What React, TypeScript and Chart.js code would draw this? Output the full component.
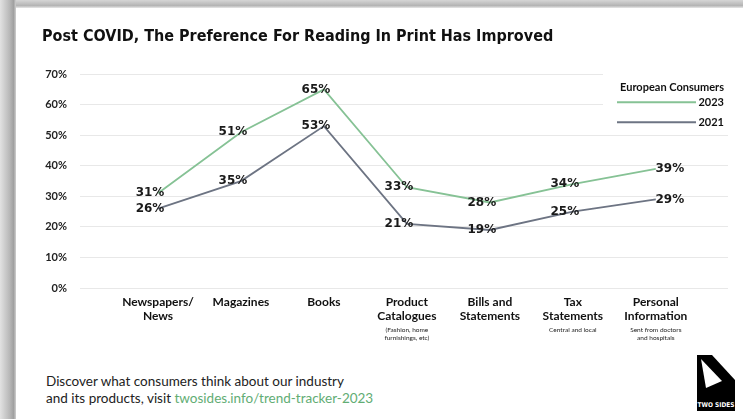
import React, { useEffect, useRef } from "react";
import { Chart, registerables } from "chart.js";

Chart.register(...registerables);

const chartTitle = "Post COVID, The Preference For Reading In Print Has Improved";
const categories: string[][] = [
  ["Newspapers/", "News"],
  ["Magazines"],
  ["Books"],
  ["Product", "Catalogues"],
  ["Bills and", "Statements"],
  ["Tax", "Statements"],
  ["Personal", "Information"],
];
const categoryNotes: string[][] = [
  [],
  [],
  [],
  ["(Fashion, home", "furnishings, etc)"],
  [],
  ["Central and local"],
  ["Sent from doctors", "and hospitals"],
];
const seriesNames = ["2023", "2021"];
const series2023 = [31, 51, 65, 33, 28, 34, 39];
const series2021 = [26, 35, 53, 21, 19, 25, 29];
const yTickValues = [0, 10, 20, 30, 40, 50, 60, 70];
const legendTitle = "European Consumers";

const GREEN = "#86c295";
const GREY = "#6d7483";
const GEO = "Lato, 'DejaVu Sans', sans-serif";

const dataLabelPlugin = {
  id: "dataLabels",
  afterDatasetsDraw(chart: any) {
    const ctx = chart.ctx;
    ctx.save();
    ctx.font = "bold 12px 'DejaVu Sans', sans-serif";
    ctx.fillStyle = "#1a1a1a";
    ctx.textAlign = "center";
    ctx.textBaseline = "middle";
    chart.data.datasets.forEach((ds: any, di: number) => {
      const meta = chart.getDatasetMeta(di);
      meta.data.forEach((el: any, i: number) => {
        const v = ds.data[i].y;
        const last = i === meta.data.length - 1;
        ctx.fillText(v + "%", el.x + (last ? 14 : -8), el.y);
      });
    });
    ctx.restore();
  },
};

const sideLegendPlugin = {
  id: "sideLegend",
  beforeDatasetsDraw(chart: any) {
    const { ctx, chartArea } = chart;
    const right = chartArea.right - 4;
    const top = chartArea.top;
    ctx.save();
    ctx.fillStyle = "#fff";
    ctx.fillRect(right - 121, top - 8, 127, 54);
    ctx.font = "bold 11px " + GEO;
    ctx.fillStyle = "#111";
    ctx.textAlign = "right";
    ctx.textBaseline = "middle";
    ctx.fillText(legendTitle, right, top + 13);
    chart.data.datasets.forEach((ds: any, i: number) => {
      const y = top + 28 + i * 20;
      ctx.strokeStyle = ds.borderColor;
      ctx.lineWidth = 2;
      ctx.beginPath();
      ctx.moveTo(right - 107, y);
      ctx.lineTo(right - 28, y);
      ctx.stroke();
      ctx.fillStyle = "#111";
      ctx.fillText(ds.label, right, y);
    });
    ctx.restore();
  },
};

function ChartView() {
  const ref = useRef<HTMLCanvasElement | null>(null);
  useEffect(() => {
    if (!ref.current) return;
    const indexTicks = (scale: any) => {
      scale.ticks = categories.map((_, i) => ({ value: i }));
    };
    const chart = new Chart(ref.current, {
      type: "line",
      data: {
        datasets: [
          {
            label: seriesNames[0],
            data: series2023.map((v, i) => ({ x: i, y: v })),
            borderColor: GREEN,
            backgroundColor: GREEN,
            borderWidth: 1.8,
            pointRadius: 0,
            tension: 0,
            xAxisID: "x",
          },
          {
            label: seriesNames[1],
            data: series2021.map((v, i) => ({ x: i, y: v })),
            borderColor: GREY,
            backgroundColor: GREY,
            borderWidth: 1.8,
            pointRadius: 0,
            tension: 0,
            xAxisID: "x",
          },
        ],
      },
      options: {
        animation: false,
        responsive: false,
        layout: { padding: { left: 42, right: 15, top: 0, bottom: 8 } },
        plugins: {
          legend: { display: false },
          tooltip: { enabled: false },
          title: {
            display: true,
            text: chartTitle,
            align: "start",
            color: "#111",
            font: { family: "'DejaVu Sans Condensed', 'DejaVu Sans', sans-serif", size: 16, weight: "bold", lineHeight: 1.2 },
            padding: { top: 27, bottom: 28 },
          },
        },
        scales: {
          x: {
            type: "linear",
            position: "bottom",
            min: -0.94,
            max: 6.87,
            weight: 0,
            afterBuildTicks: indexTicks,
            afterFit: (scale: any) => {
              scale.height = 35;
            },
            grid: { display: false, drawTicks: false },
            border: { display: false },
            ticks: {
              autoSkip: false,
              maxRotation: 0,
              padding: 7,
              color: "#111",
              font: { family: GEO, size: 12, weight: "bold", lineHeight: "14px" },
              callback: (v: any) => categories[Math.round(v)] || "",
            },
          },
          xs: {
            type: "linear",
            position: "bottom",
            min: -0.94,
            max: 6.87,
            weight: 1,
            afterBuildTicks: indexTicks,
            afterFit: (scale: any) => {
              scale.height = 19;
            },
            grid: { display: false, drawTicks: false },
            border: { display: false },
            ticks: {
              autoSkip: false,
              maxRotation: 0,
              padding: 3,
              color: "#222",
              font: { family: GEO, size: 6.5, lineHeight: "8px" },
              callback: (v: any) => categoryNotes[Math.round(v)] || "",
            },
          },
          y: {
            min: 0,
            max: 70,
            afterBuildTicks: (scale: any) => {
              scale.ticks = yTickValues.map((v) => ({ value: v }));
            },
            afterFit: (scale: any) => {
              scale.width = 38;
            },
            grid: { color: "#e8e8e8", lineWidth: 1, drawTicks: false },
            border: { display: false },
            ticks: {
              padding: 13,
              color: "#222",
              font: { family: GEO, size: 11, weight: "bold" },
              callback: (v: any) => v + "%",
            },
          },
        },
      } as any,
      plugins: [sideLegendPlugin, dataLabelPlugin],
    });
    return () => chart.destroy();
  }, []);
  return <canvas ref={ref} width={743} height={350} style={{ display: "block" }} />;
}

export default function App() {
  return (
    <div style={{ position: "fixed", left: 0, top: 0, width: 743, height: 419, background: "#fff", overflow: "hidden" }}>
      <div style={{ position: "absolute", left: 0, top: 0, width: 743, height: 8, background: "linear-gradient(to bottom, #d6d6d6, #b4b4b4 70%, #e8e8e8)" }} />
      <div style={{ position: "absolute", left: 0, top: 0, width: 16, height: 419, background: "linear-gradient(to right, #e2e2e2, #b8b8b8 60%, #a0a0a0 85%, #d0d0d0)" }} />
      <div style={{ position: "absolute", left: 16, top: 8, width: 727, height: 411, background: "#fff" }} />
      <div style={{ position: "absolute", left: 0, top: 0 }}>
        <ChartView />
      </div>
      <div
        style={{
          position: "absolute",
          left: 46,
          top: 373,
          fontFamily: "Lato, 'DejaVu Sans', sans-serif",
          fontSize: 13.5,
          lineHeight: "17px",
          color: "#222",
          whiteSpace: "nowrap",
        }}
      >
        <div>Discover what consumers think about our industry</div>
        <div>
          and its products, visit <span style={{ color: "#62ad74" }}>twosides.info/trend-tracker-2023</span>
        </div>
      </div>
      <svg style={{ position: "absolute", left: 695, top: 353 }} width={42} height={60} viewBox="0 0 42 60">
        <polygon points="2,2 17,2 40,27 40,58 2,58" fill="#000" />
        <polygon points="6,6 27,28 11,35" fill="#fff" />
        <text x="21" y="54" fill="#fff" fontFamily="'DejaVu Sans Condensed', sans-serif" fontWeight="bold" fontSize="6.5" textAnchor="middle">
          TWO SIDES
        </text>
      </svg>
    </div>
  );
}
